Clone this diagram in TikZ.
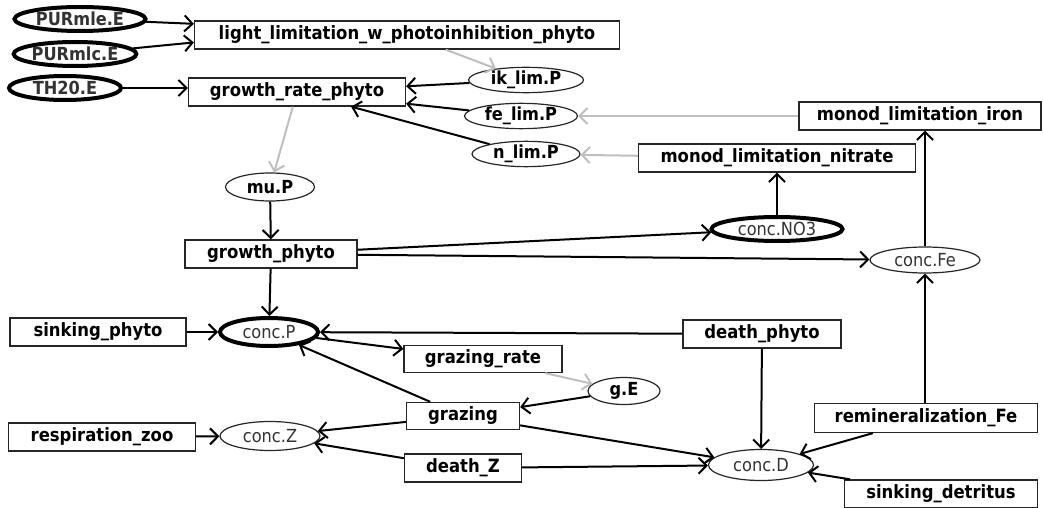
\documentclass[tikz,border=0pt]{standalone}
\usepackage{fontspec}
\setmainfont{DejaVu Sans Condensed}
\usetikzlibrary{shapes.geometric,arrows.meta}

\tikzset{
  varbox/.style={draw=black!85, line width=1.3pt, fill=white, rectangle, inner sep=0pt,
    minimum height=28pt, font=\bfseries\fontsize{18.3}{20}\selectfont},
  auxell/.style={draw=black!85, line width=1.2pt, fill=white, ellipse, inner sep=0pt,
    minimum height=24pt, font=\bfseries\fontsize{18}{20}\selectfont},
  concell/.style={auxell, font=\fontsize{18}{20}\selectfont, text=black!80},
  stockell/.style={concell, draw=black, line width=4pt},
  forcell/.style={stockell, font=\bfseries\fontsize{18}{20}\selectfont},
  flow/.style={line width=2pt, -{Straight Barb[length=8pt,width=16pt]}},
  infl/.style={flow, draw=black!25},
}

\begin{document}
\begin{tikzpicture}[x=1pt,y=-1pt]
\fill[white] (0,0) rectangle (1044,508);
\useasboundingbox (0,0) rectangle (1044,508);

% forcings
\node[forcell, minimum width=131pt, minimum height=24pt] (purmle) at (80,19) {PURmle.E};
\node[forcell, minimum width=122pt, minimum height=24pt] (purmlc) at (75,54) {PURmlc.E};
\node[forcell, minimum width=112pt, minimum height=24pt] (th20) at (65,88) {TH20.E};

% phyto growth
\node[varbox, minimum width=425pt] (light) at (407,35) {light\_limitation\_w\_photoinhibition\_phyto};
\node[varbox, minimum width=217pt] (growthrate) at (297,92) {growth\_rate\_phyto};
\node[auxell, minimum width=115pt] (iklim) at (526,80) {ik\_lim.P};
\node[auxell, minimum width=113pt] (felim) at (521,116) {fe\_lim.P};
\node[auxell, minimum width=108pt] (nlim) at (526,154) {n\_lim.P};
\node[varbox, minimum width=242pt] (monodiron) at (920,116) {monod\_limitation\_iron};
\node[varbox, minimum width=277pt] (monodnitrate) at (777,158) {monod\_limitation\_nitrate};
\node[auxell, minimum width=89pt, minimum height=28pt] (mup) at (270,187) {mu.P};
\node[varbox, minimum width=172pt] (growthphyto) at (271,254) {growth\_phyto};
\node[stockell, minimum width=131pt] (concno3) at (777,229) {conc.NO3};
\node[concell, minimum width=110pt, minimum height=26pt] (concfe) at (925,260) {conc.Fe};

% plankton and detritus
\node[varbox, minimum width=176pt] (sinkphyto) at (98,332) {sinking\_phyto};
\node[stockell, minimum width=98pt, minimum height=28pt] (concp) at (269,332) {conc.P};
\node[varbox, minimum width=158pt] (deathphyto) at (762,334) {death\_phyto};
\node[varbox, minimum width=158pt, minimum height=27pt] (grazingrate) at (483,359) {grazing\_rate};
\node[auxell, minimum width=72pt, minimum height=27pt] (ge) at (624,391) {g.E};
\node[varbox, minimum width=113pt, minimum height=27pt] (grazing) at (463,416) {grazing};
\node[varbox, minimum width=187pt] (respzoo) at (102,437) {respiration\_zoo};
\node[concell, minimum width=100pt, minimum height=29pt] (concz) at (270,436) {conc.Z};
\node[varbox, minimum width=117pt] (deathz) at (463,468) {death\_Z};
\node[concell, minimum width=105pt, minimum height=31pt] (concd) at (761,465) {conc.D};
\node[varbox, minimum width=223pt, minimum height=29pt] (remin) at (926,418) {remineralization\_Fe};
\node[varbox, minimum width=193pt] (sinkdet) at (941,494) {sinking\_detritus};

% connectors
\draw[flow] (purmle) -- (light.177);
\draw[flow] (purmlc) -- (light.182);
\draw[flow] (th20) -- (th20 -| growthrate.west);
\draw[infl] (light) -- (iklim);
\draw[flow] (iklim) -- (growthrate);
\draw[flow] (felim) -- (growthrate);
\draw[flow] (nlim) -- (growthrate);
\draw[infl] (monodiron) -- (felim);
\draw[infl] (monodnitrate) -- (nlim);
\draw[infl] (growthrate) -- (mup);
\draw[flow] (mup) -- (growthphyto);
\draw[flow] (growthphyto) -- (concno3);
\draw[flow] (growthphyto) -- (concfe);
\draw[flow] (concno3) -- (monodnitrate);
\draw[flow] (concfe.north) -- (concfe.north |- monodiron.south);
\draw[flow] (remin.north -| concfe.south) -- (concfe.south);
\draw[flow] (growthphyto) -- (concp);
\draw[flow] (sinkphyto) -- (concp);
\draw[flow] (deathphyto) -- (concp);
\draw[flow] (concp) -- (grazingrate);
\draw[infl] (grazingrate) -- (ge);
\draw[flow] (ge) -- (grazing);
\draw[flow] (grazing) -- (concp);
\draw[flow] (grazing) -- (concz);
\draw[flow] (grazing) -- (concd);
\draw[flow] (respzoo) -- (concz);
\draw[flow] (deathz) -- (concz);
\draw[flow] (deathz) -- (concd);
\draw[flow] (deathphyto) -- (concd);
\draw[flow] (remin) -- (concd);
\draw[flow] (sinkdet) -- (concd);

\end{tikzpicture}
\end{document}
